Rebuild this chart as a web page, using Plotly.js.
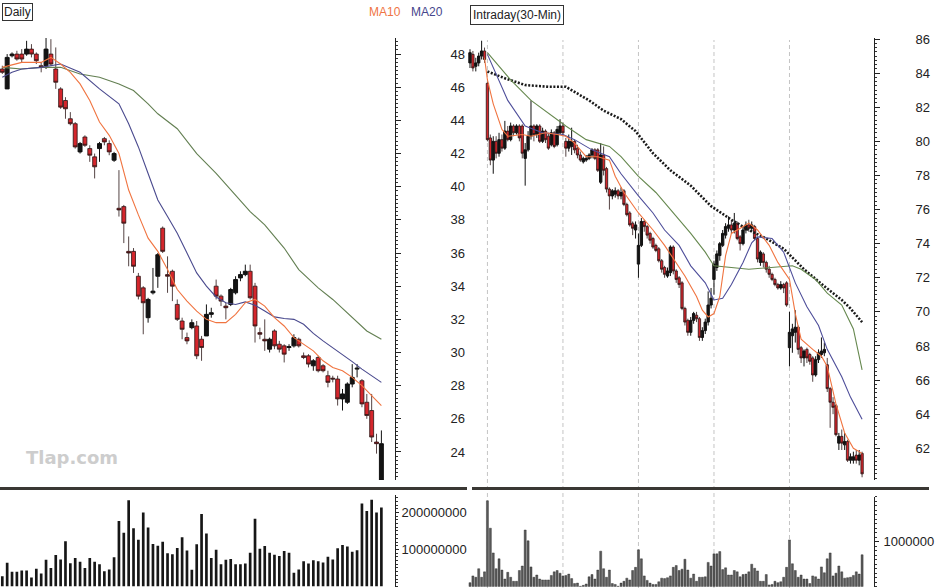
<!DOCTYPE html>
<html><head><meta charset="utf-8">
<script src="https://cdn.plot.ly/plotly-3.0.1.min.js"></script>
<style>html,body{margin:0;padding:0;background:#fff}#c{width:941px;height:588px}</style>
</head><body><div id="c"></div>
<script>
// ---------- DAILY (79 sessions) ----------
const dailyOpen  = [47.1,45.9,47.9,48.0,48.0,48.0,48.3,48.0,47.3,47.3,48.0,47.1,45.9,45.2,44.1,43.8,42.1,43.0,42.3,41.8,42.3,42.9,42.6,41.6,38.7,38.8,36.1,36.1,34.6,33.9,32.1,33.6,34.6,37.5,34.7,34.9,32.9,31.9,30.9,31.5,31.6,30.8,31.0,32.3,34.0,33.4,32.8,32.9,33.6,34.5,34.7,34.9,34.0,31.2,30.8,30.2,31.3,30.5,30.4,30.3,30.4,30.8,29.8,29.8,29.2,29.7,29.2,28.6,28.45,28.4,27.2,27.0,28.1,29.0,28.3,27.0,26.5,24.6,22.3];
const dailyHigh  = [47.3,48.0,48.1,48.2,48.3,48.8,48.6,48.1,47.5,49.0,48.9,48.4,46.0,45.4,44.5,43.9,42.7,43.1,42.5,42.0,42.7,43.0,42.8,42.1,41.0,38.9,37.0,36.3,34.8,34.0,33.3,35.1,36.0,37.6,35.8,35.0,33.2,32.1,31.2,32.0,31.9,31.0,32.9,32.7,34.4,33.5,33.0,33.9,34.6,34.9,35.3,35.3,34.2,31.5,32.0,30.9,31.4,30.7,30.5,30.5,31.1,30.9,30.0,29.9,29.6,29.8,29.3,28.9,28.6,28.6,27.8,28.2,29.3,29.3,28.4,27.5,27.5,25.1,25.3];
const dailyLow   = [46.8,45.9,47.8,47.6,47.5,47.9,47.8,47.4,46.9,47.1,47.3,45.9,44.7,44.1,43.7,42.3,42.0,42.4,41.5,40.5,41.5,42.5,41.9,41.5,38.2,36.6,35.2,34.8,33.2,31.1,31.8,33.5,33.9,36.0,33.6,33.1,31.9,30.8,30.5,31.4,29.6,29.5,31.0,32.1,33.2,32.8,32.0,32.8,33.5,34.3,34.6,33.2,30.6,30.8,30.1,30.0,30.2,30.0,29.4,30.1,30.3,30.3,29.6,29.1,28.9,28.8,28.8,27.9,28.2,26.8,26.5,26.9,27.9,28.5,26.7,26.0,24.6,23.9,22.3];
const dailyClose = [46.9,47.8,48.0,47.7,47.7,48.3,48.0,47.6,47.2,48.3,47.4,46.3,44.8,44.7,43.8,42.4,42.6,42.5,41.9,41.2,42.6,42.7,42.1,42.0,38.6,37.8,36.0,35.2,33.4,33.0,33.2,33.7,35.9,36.1,34.6,34.0,32.0,31.4,30.7,31.8,29.8,30.3,32.3,32.4,33.4,33.1,32.7,33.8,34.4,34.7,34.9,33.3,31.6,31.1,30.7,30.8,30.4,30.2,29.9,30.35,30.9,30.4,29.7,29.3,29.5,28.9,28.9,28.2,28.4,27.2,27.5,28.1,28.5,29.05,26.9,26.2,24.9,24.5,24.5];
const dailyVolM  = [28,64,40,40,43,43,24,48,35,72,50,85,73,122,63,77,67,50,77,67,60,41,46,79,177,145,233,157,126,200,159,115,110,121,90,87,104,133,97,45,114,196,143,77,99,60,72,74,60,60,62,91,183,102,109,91,86,82,96,91,37,46,68,62,71,68,65,80,73,103,112,108,94,98,224,204,234,200,213];
const dailyMa10X = [1,5,9,11,13,15,17,19,21,23,25,27,29,31,33,35,37,39,41,43,45,47,49,51,53,55,57,59,61,63,65,67,69,71,73,75,77,79];
const dailyMa10  = [47.2,47.5,47.5,47.8,47.4,46.9,46.2,45.2,43.9,43.1,42.0,39.8,38.3,36.9,36.1,35.0,33.8,33.1,32.5,32.0,31.8,31.8,32.3,33.0,33.2,32.8,32.1,31.6,30.9,30.5,30.1,29.5,29.1,28.9,28.5,28.0,27.4,26.8];
const dailyMa20X = [1,3,5,9,13,17,21,25,27,29,31,33,35,37,39,41,43,45,47,49,51,53,55,57,59,61,63,65,67,69,71,73,75,77,79];
const dailyMa20  = [46.6,46.9,47.1,47.2,47.4,46.9,45.9,45.0,43.8,42.4,40.8,39.2,38.2,37.2,36.0,34.8,34.0,33.35,33.0,32.9,33.05,32.85,32.5,32.15,32.05,32.0,31.7,31.15,30.7,30.3,29.85,29.45,29.0,28.6,28.2];
const dailyMa50X = [1,5,9,13,17,21,25,28,31,33,37,41,45,49,52,55,59,62,66,69,72,76,79];
const dailyMa50  = [47.2,47.1,47.2,47.2,46.8,46.6,46.2,45.8,45.0,44.4,43.5,42.0,40.8,39.5,38.5,37.7,36.3,35.0,33.9,33.2,32.4,31.3,30.8];
const dailyPriceTicks = [24,26,28,30,32,34,36,38,40,42,44,46,48];
const dailyVolTicks = [100000000,200000000];

// ---------- INTRADAY (136 bars) ----------
const intraOpen  = [84.6,85.1,84.4,84.6,85.0,85.3,83.4,80.2,78.9,80.0,79.3,80.1,79.6,80.6,80.1,80.9,80.5,80.9,80.9,79.0,79.5,80.3,80.9,80.4,80.9,80.0,80.6,80.3,79.8,80.5,79.8,80.5,80.9,80.0,79.6,79.7,80.0,79.6,79.2,78.8,78.9,79.0,79.2,79.5,79.5,77.6,79.2,78.4,77.2,76.8,76.9,77.1,76.8,77.1,76.3,75.8,75.2,74.8,72.8,73.9,75.3,75.0,74.6,74.3,73.9,73.7,73.0,72.6,72.1,72.3,73.8,72.4,72.0,71.7,70.2,69.5,68.8,69.5,69.8,69.6,68.5,68.9,69.4,70.4,71.9,72.6,73.3,73.9,74.5,74.9,75.1,74.8,75.2,74.4,74.0,74.8,75.1,74.9,75.0,74.3,72.9,73.4,72.9,72.5,72.2,71.9,71.6,71.4,71.6,71.7,67.9,68.6,68.8,69.1,67.9,67.3,67.8,67.5,67.3,66.3,67.2,67.5,67.6,66.9,65.5,64.7,64.5,62.3,62.7,62.2,62.4,61.3,61.3,61.6,61.3,61.7];
const intraHigh  = [85.4,85.3,84.9,85.2,85.9,85.5,83.5,80.4,80.3,80.3,80.5,80.4,81.2,80.9,81.1,81.0,81.0,81.0,81.0,79.9,80.6,82.4,81.0,81.0,81.0,80.8,80.7,80.5,80.7,80.6,80.9,81.3,81.1,80.2,80.4,80.8,80.1,79.8,79.4,79.1,79.2,79.3,79.6,79.6,79.6,79.9,79.7,78.5,77.3,77.2,77.3,77.2,77.3,77.2,76.4,75.9,75.3,75.3,74.6,75.5,75.4,75.1,74.7,74.4,74.0,73.8,73.1,72.7,72.6,73.9,73.9,72.5,72.1,71.8,70.3,69.6,69.7,70.0,70.0,69.7,69.1,69.6,71.2,71.4,73.0,73.6,74.1,74.8,75.2,75.6,75.4,75.8,75.3,74.5,75.0,75.3,75.4,75.3,75.1,74.4,73.6,73.5,73.0,72.7,72.3,72.0,71.7,71.8,71.7,71.8,70.0,69.3,70.1,69.2,68.0,67.8,67.9,67.6,67.4,67.4,67.8,68.5,68.2,67.3,65.6,65.0,64.6,62.9,63.1,62.9,62.5,61.7,61.8,61.9,61.9,61.8];
const intraLow   = [84.3,84.1,84.1,84.4,84.8,84.6,80.0,78.6,78.1,79.0,79.1,79.4,79.5,80.0,80.0,80.3,80.4,80.0,79.0,77.4,79.4,80.1,80.0,80.2,79.9,79.9,79.9,79.5,79.7,79.6,79.7,80.4,80.3,79.1,79.4,79.2,79.3,79.0,78.8,78.7,78.8,78.9,79.0,78.9,78.2,77.5,78.0,77.0,76.0,76.6,76.7,76.6,76.6,76.2,75.6,75.0,74.5,74.3,72.0,73.8,74.7,74.3,74.0,73.7,73.5,72.9,72.3,72.0,72.0,72.1,72.2,71.7,71.4,70.1,69.2,68.6,68.6,69.3,69.4,68.3,68.3,68.7,69.2,70.2,71.0,72.4,73.0,73.8,74.3,74.7,74.6,74.6,74.2,73.6,73.9,74.6,74.7,74.7,74.2,72.9,72.7,72.6,72.3,72.0,71.8,71.5,71.3,71.3,71.1,70.3,66.8,67.6,68.2,67.5,67.0,66.8,67.0,66.9,65.9,66.2,67.0,67.3,67.4,65.3,63.2,64.0,62.7,61.9,61.9,61.9,61.2,61.1,61.1,61.1,61.0,60.3];
const intraClose = [85.2,84.3,84.6,85.0,85.3,84.8,80.1,78.9,80.0,79.3,80.1,79.6,80.6,80.1,80.9,80.5,80.9,80.2,79.3,79.5,80.3,80.9,80.4,80.9,80.0,80.6,80.1,79.6,80.5,79.7,80.7,80.9,80.5,79.6,80.0,80.0,79.5,79.2,78.9,79.0,79.0,79.2,79.5,79.0,78.3,79.2,78.3,77.2,76.8,77.1,77.1,76.8,77.0,76.3,75.7,75.1,74.9,75.1,73.9,75.3,75.0,74.5,74.2,73.8,73.6,73.0,72.5,72.2,72.4,73.8,72.4,71.9,71.6,70.2,69.4,68.8,69.5,69.9,69.6,68.5,68.9,69.4,70.4,70.8,72.8,73.4,74.0,74.6,75.0,75.1,74.8,75.2,74.3,74.0,74.8,75.1,74.9,75.1,74.3,73.1,73.5,72.9,72.5,72.2,71.9,71.6,71.4,71.6,71.4,70.4,68.8,69.0,69.1,67.8,67.3,67.7,67.3,67.1,66.3,67.2,67.6,67.7,67.8,65.5,64.7,64.4,62.8,62.7,62.3,62.4,61.3,61.5,61.5,61.3,61.6,60.5];
const intraVolM  = [0.09,0.24,0.21,0.40,0.21,0.33,1.91,1.30,0.75,0.40,0.62,0.37,0.17,0.32,0.21,0.12,0.12,0.36,0.46,1.26,1.02,0.44,0.21,0.26,0.17,0.15,0.15,0.15,0.25,0.33,0.36,0.30,0.24,0.25,0.28,0.18,0.07,0.08,0.01,0.03,0.06,0.22,0.27,0.17,0.37,0.79,0.40,0.21,0.37,0.07,0.05,0.01,0.08,0.12,0.19,0.15,0.36,0.43,0.82,0.62,0.24,0.14,0.08,0.05,0.05,0.11,0.19,0.18,0.20,0.24,0.43,0.47,0.36,0.39,0.61,0.37,0.19,0.28,0.12,0.21,0.21,0.22,0.54,0.46,0.73,0.73,0.78,0.38,0.42,0.26,0.26,0.36,0.33,0.22,0.27,0.28,0.33,0.50,0.41,0.35,0.12,0.12,0.27,0.04,0.05,0.12,0.09,0.11,0.21,0.43,1.04,0.51,0.36,0.21,0.26,0.17,0.17,0.07,0.24,0.22,0.17,0.44,0.31,0.62,0.75,0.24,0.30,0.46,0.33,0.19,0.20,0.21,0.25,0.33,0.28,0.71];
const intraMa10X = [5,6,8,11,13,18,21,26,30,33,36,40,44,48,50,53,58,63,67,71,74,78,80,82,84,86,88,90,96,99,103,106,110,112,114,118,121,123,126,129,132,135];
const intraMa10  = [84.9,83.6,82.2,80.7,80.3,80.4,80.3,80.5,80.4,80.3,79.9,79.1,79.1,78.9,77.95,77.0,75.8,74.8,73.9,72.9,72.1,70.9,70.1,69.7,69.9,70.9,73.3,74.6,75.2,74.8,73.9,72.9,71.9,69.9,68.4,67.8,67.4,66.8,64.6,62.9,62.0,61.7];
const intraMa20X = [6,13,19,25,32,36,42,48,52,58,63,67,72,76,81,84,87,90,94,97,99,104,108,112,116,120,123,128,131,135];
const intraMa20  = [85.1,82.4,80.9,80.5,80.4,80.1,79.5,79.1,78.1,76.8,75.8,74.8,73.9,72.7,71.7,70.7,70.8,71.6,72.9,74.05,74.4,74.3,73.5,71.7,70.3,69.2,67.8,66.2,65.0,63.7];
const intraMa30X = [6,14,21,28,33,40,48,52,58,64,70,76,81,84,96,104,111,114,119,123,128,132,135];
const intraMa30  = [85.2,83.6,82.4,81.5,80.9,80.1,79.7,79.1,77.95,77.0,75.8,74.6,73.5,72.7,72.5,72.6,72.7,72.5,71.9,71.1,70.4,69.0,66.6];
const intraMaLongX = [6,12,19,27,33,36,41,46,52,57,63,69,76,83,90,96,102,108,115,122,128,131,135];
const intraMaLong  = [84.1,83.7,83.3,83.2,83.2,82.9,82.4,81.8,81.3,80.6,79.3,78.3,77.4,76.2,75.4,74.8,74.3,73.7,72.5,71.5,70.7,70.2,69.4];
const intraDayStarts = [6,32,58,84,110];
const intraPriceTicks = [62,64,66,68,70,72,74,76,78,80,82,84,86];
const intraVolTicks = [1000000];

// ---------- build ----------
const dX = dailyOpen.map((_, k) => k + 1);
const iX = intraOpen.map((_, k) => k);
const W = 941, H = 588;
const px = v => v / W, py = v => 1 - v / H;

const candleStyle = {
  increasing: {line: {color: '#111', width: 1}, fillcolor: '#141414'},
  decreasing: {line: {color: '#2a1414', width: 0.8}, fillcolor: '#d4262c'},
  hoverinfo: 'skip', showlegend: false
};

const traces = [
  Object.assign({type: 'candlestick', x: dX, open: dailyOpen, high: dailyHigh, low: dailyLow, close: dailyClose, xaxis: 'x', yaxis: 'y'}, candleStyle),
  {type: 'scatter', mode: 'lines', x: dailyMa50X, y: dailyMa50, line: {color: '#637f52', width: 1.1}, xaxis: 'x', yaxis: 'y', showlegend: false},
  {type: 'scatter', mode: 'lines', x: dailyMa20X, y: dailyMa20, line: {color: '#4a4a8e', width: 1.1}, xaxis: 'x', yaxis: 'y', showlegend: false},
  {type: 'scatter', mode: 'lines', x: dailyMa10X, y: dailyMa10, line: {color: '#f07440', width: 1.1}, xaxis: 'x', yaxis: 'y', showlegend: false},
  {type: 'bar', x: dX, y: dailyVolM.map(v => v * 1e6), width: 0.55, marker: {color: '#161616', line: {width: 0}}, xaxis: 'x2', yaxis: 'y2', showlegend: false},

  {type: 'scatter', mode: 'lines', x: intraMaLongX, y: intraMaLong, line: {color: '#1a1a1a', width: 2.6, dash: '2px,1.6px'}, xaxis: 'x3', yaxis: 'y3', showlegend: false},
  {type: 'scatter', mode: 'lines', x: intraMa30X, y: intraMa30, line: {color: '#66884f', width: 1.1}, xaxis: 'x3', yaxis: 'y3', showlegend: false},
  {type: 'scatter', mode: 'lines', x: intraMa20X, y: intraMa20, line: {color: '#4e4e9a', width: 1.1}, xaxis: 'x3', yaxis: 'y3', showlegend: false},
  Object.assign({type: 'candlestick', x: iX, open: intraOpen, high: intraHigh, low: intraLow, close: intraClose, xaxis: 'x3', yaxis: 'y3'}, candleStyle),
  {type: 'scatter', mode: 'lines', x: intraMa10X, y: intraMa10, line: {color: '#f07440', width: 1.1}, xaxis: 'x3', yaxis: 'y3', showlegend: false},
  {type: 'bar', x: iX, y: intraVolM.map(v => v * 1e6), width: 0.7, marker: {color: '#5a5a5a', line: {color: '#222', width: 0.4}}, xaxis: 'x4', yaxis: 'y4', showlegend: false}
];

const fontFam = '"Liberation Sans", Arial, sans-serif';
const xBase = {showticklabels: false, showgrid: false, zeroline: false, showline: false, ticks: '', fixedrange: true};
const yBase = {side: 'right', showgrid: false, zeroline: false, showline: true, linecolor: '#222', linewidth: 1,
  ticks: 'outside', tickcolor: '#222', ticklen: 5, tickwidth: 1, tickfont: {family: fontFam, size: 13, color: '#222'}, fixedrange: true};

const dRange = [1 - 2.3 / 4.86, 1 + 392.7 / 4.86];
const iRange = [-1.033, 139.1];

const layout = {
  width: W, height: H, margin: {l: 0, r: 0, t: 0, b: 0},
  paper_bgcolor: '#ffffff', plot_bgcolor: 'rgba(0,0,0,0)', showlegend: false,
  boxgap: 0.12, boxgroupgap: 0.08,
  font: {family: fontFam},
  xaxis: Object.assign({}, xBase, {domain: [0, px(395)], range: dRange, anchor: 'y', rangeslider: {visible: false}}),
  xaxis2: Object.assign({}, xBase, {domain: [0, px(395)], range: dRange, anchor: 'y2'}),
  xaxis3: Object.assign({}, xBase, {domain: [px(467), px(874)], range: iRange, anchor: 'y3', rangeslider: {visible: false}}),
  xaxis4: Object.assign({}, xBase, {domain: [px(467), px(874)], range: iRange, anchor: 'y4'}),
  yaxis: Object.assign({}, yBase, {domain: [py(480), py(38)], range: [22.31, 48.97], anchor: 'x',
    tickvals: dailyPriceTicks, ticktext: dailyPriceTicks.map(String), ticklabelstandoff: 47,
    minor: {ticks: 'outside', ticklen: 2, dtick: 0.25, tickcolor: '#333'}}),
  yaxis2: Object.assign({}, yBase, {domain: [py(586.5), py(495)], range: [0, 247e6], anchor: 'x2',
    tickvals: dailyVolTicks, ticktext: dailyVolTicks.map(String), ticklen: 3, ticklabelstandoff: 0,
    minor: {ticks: 'outside', ticklen: 2, dtick: 10e6, tickcolor: '#333'}}),
  yaxis3: Object.assign({}, yBase, {domain: [py(480), py(38)], range: [60.14, 86.06], anchor: 'x3',
    tickvals: intraPriceTicks, ticktext: intraPriceTicks.map(String), ticklabelstandoff: 33,
    minor: {ticks: 'outside', ticklen: 2, dtick: 0.25, tickcolor: '#333'}}),
  yaxis4: Object.assign({}, yBase, {domain: [py(586.7), py(496.7)], range: [0, 2.0e6], anchor: 'x4',
    tickvals: intraVolTicks, ticktext: intraVolTicks.map(String), ticklen: 4, ticklabelstandoff: 2,
    minor: {ticks: 'outside', ticklen: 2, dtick: 0.1e6, tickcolor: '#333'}}),
  shapes: [
    {type: 'line', xref: 'paper', yref: 'paper', x0: 0, x1: px(467), y0: py(488.5), y1: py(488.5), line: {color: '#3a3834', width: 3}},
    {type: 'line', xref: 'paper', yref: 'paper', x0: px(472), x1: px(929), y0: py(488.5), y1: py(488.5), line: {color: '#3a3834', width: 3}}
  ].concat(intraDayStarts.map(s => ({type: 'line', xref: 'x3', yref: 'paper', x0: s, x1: s, y0: 0, y1: py(40),
    line: {color: '#c4c4c4', width: 1, dash: '4px,3px'}, layer: 'below'}))),
  annotations: [
    {xref: 'paper', yref: 'paper', x: px(2), y: py(3), xanchor: 'left', yanchor: 'top', showarrow: false,
     text: 'Daily', font: {family: fontFam, size: 12, color: '#222'}, bordercolor: '#333', borderwidth: 1, borderpad: 1, bgcolor: '#fff'},
    {xref: 'paper', yref: 'paper', x: px(470), y: py(5), xanchor: 'left', yanchor: 'top', showarrow: false,
     text: 'Intraday(30-Min)', font: {family: fontFam, size: 12, color: '#222'}, bordercolor: '#333', borderwidth: 1, borderpad: 2, bgcolor: '#fff'},
    {xref: 'paper', yref: 'paper', x: px(367), y: py(12), xanchor: 'left', yanchor: 'middle', showarrow: false,
     text: 'MA10', font: {family: fontFam, size: 12, color: '#ef7444'}},
    {xref: 'paper', yref: 'paper', x: px(409), y: py(12), xanchor: 'left', yanchor: 'middle', showarrow: false,
     text: 'MA20', font: {family: fontFam, size: 12, color: '#46468c'}},
    {xref: 'paper', yref: 'paper', x: px(24), y: py(457), xanchor: 'left', yanchor: 'middle', showarrow: false,
     text: '<b>Tlap.com</b>', font: {family: '"DejaVu Sans", sans-serif', size: 18, color: '#cdcdcd'}}
  ]
};

Plotly.newPlot('c', traces, layout, {staticPlot: true, displayModeBar: false});
</script>
</body></html>
